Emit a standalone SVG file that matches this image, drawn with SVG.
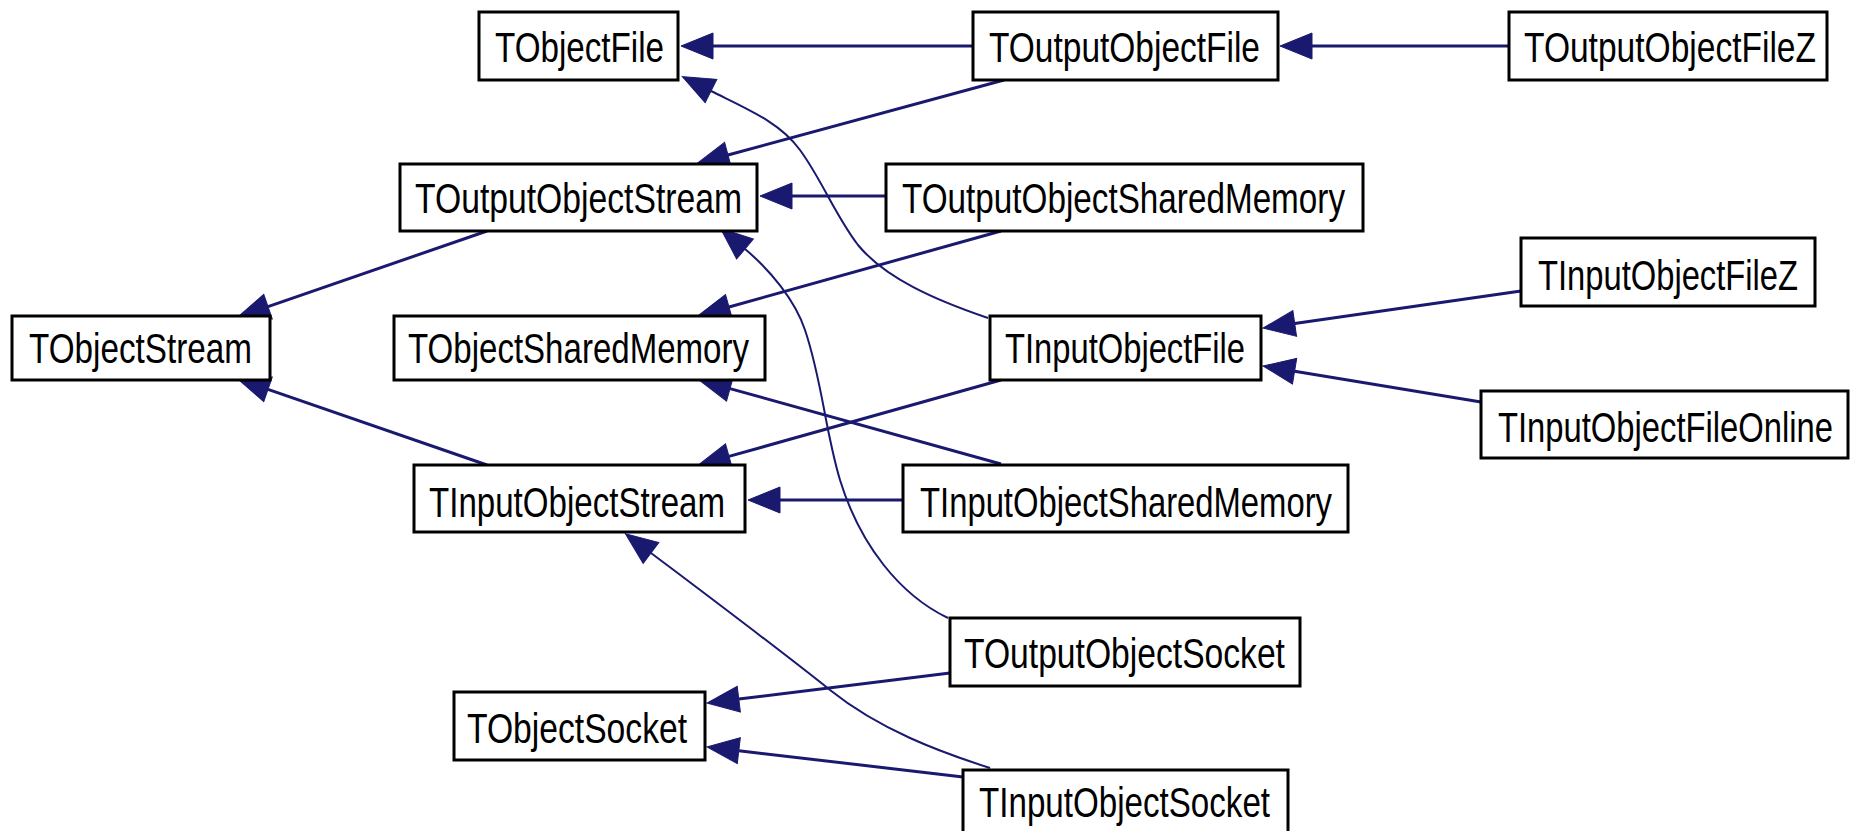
<svg xmlns="http://www.w3.org/2000/svg" width="1850" height="831" viewBox="0 0 1850 831">
  <style>
    .box { fill: #ffffff; stroke: #000000; stroke-width: 3; }
    .lbl { font-family: "Liberation Sans", Arial, sans-serif; font-size: 42px; fill: #000000; }
    .edge { fill: none; stroke: #191970; stroke-width: 3; marker-end: url(#ah); }
    .curve { fill: none; stroke: #191970; stroke-width: 2; marker-end: url(#ah); }
  </style>
  <defs>
    <marker id="ah" markerUnits="userSpaceOnUse" viewBox="0 0 32 26" markerWidth="32" markerHeight="26" refX="0" refY="13" orient="auto" overflow="visible">
      <path d="M0,0 L32,13 L0,26 Z" fill="#191970" stroke="#191970" stroke-width="1"/>
    </marker>
  </defs>
  <rect x="0" y="0" width="1850" height="831" fill="#ffffff"/>

  <g id="connectors">
    <!-- TOutputObjectFile -> TObjectFile -->
    <path class="edge" d="M973,46 L713,46"/>
    <!-- TOutputObjectFileZ -> TOutputObjectFile -->
    <path class="edge" d="M1509,46 L1312,46"/>
    <!-- TOutputObjectFile -> TOutputObjectStream -->
    <path class="edge" d="M1004,80 L728,155"/>
    <!-- TInputObjectFile -> TObjectFile -->
    <path class="curve" d="M988,318 C935,300 885,278 858,245 C835,215 822,180 800,150 C780,122 745,108 711,91"/>
    <!-- TOutputObjectSharedMemory -> TOutputObjectStream -->
    <path class="edge" d="M886,196 L792,196"/>
    <!-- TOutputObjectSharedMemory -> TObjectSharedMemory -->
    <path class="edge" d="M1001,231 L729,307"/>
    <!-- TOutputObjectSocket -> TOutputObjectStream -->
    <path class="curve" d="M948,618 C900,595 860,545 840,480 C825,430 822,380 805,330 C795,300 770,270 745,249"/>
    <!-- TOutputObjectStream -> TObjectStream -->
    <path class="edge" d="M487,231 L268,306.6"/>
    <!-- TInputObjectStream -> TObjectStream -->
    <path class="edge" d="M487,465 L268,389.4"/>
    <!-- TInputObjectSharedMemory -> TObjectSharedMemory -->
    <path class="edge" d="M1001,464 L730,388.6"/>
    <!-- TInputObjectFile -> TInputObjectStream -->
    <path class="edge" d="M1001,380 L729,456.4"/>
    <!-- TInputObjectSharedMemory -> TInputObjectStream -->
    <path class="edge" d="M903,500 L780,500"/>
    <!-- TInputObjectFileZ -> TInputObjectFile -->
    <path class="edge" d="M1521,291 L1294.7,323.5"/>
    <!-- TInputObjectFileOnline -> TInputObjectFile -->
    <path class="edge" d="M1481,402 L1294.6,371.2"/>
    <!-- TInputObjectSocket -> TInputObjectStream -->
    <path class="curve" d="M990,768 C940,752 880,730 830,690 C780,650 720,605 651,553"/>
    <!-- TOutputObjectSocket -> TObjectSocket -->
    <path class="edge" d="M950,673 L738.8,699.1"/>
    <!-- TInputObjectSocket -> TObjectSocket -->
    <path class="edge" d="M963,777 L738.8,750.7"/>
  </g>

  <g id="TObjectFile">
    <rect class="box" x="479" y="12" width="199" height="68"/>
    <text class="lbl" transform="translate(495,62) scale(0.79,1)" textLength="213.9" lengthAdjust="spacingAndGlyphs">TObjectFile</text>
  </g>
  <g id="TOutputObjectFile">
    <rect class="box" x="973" y="12" width="305" height="68"/>
    <text class="lbl" transform="translate(989,62) scale(0.79,1)" textLength="343" lengthAdjust="spacingAndGlyphs">TOutputObjectFile</text>
  </g>
  <g id="TOutputObjectFileZ">
    <rect class="box" x="1509" y="12" width="318" height="68"/>
    <text class="lbl" transform="translate(1524,62) scale(0.79,1)" textLength="369.6" lengthAdjust="spacingAndGlyphs">TOutputObjectFileZ</text>
  </g>
  <g id="TOutputObjectStream">
    <rect class="box" x="400" y="164" width="357" height="67"/>
    <text class="lbl" transform="translate(415,213) scale(0.79,1)" textLength="413.9" lengthAdjust="spacingAndGlyphs">TOutputObjectStream</text>
  </g>
  <g id="TOutputObjectSharedMemory">
    <rect class="box" x="886" y="164" width="477" height="67"/>
    <text class="lbl" transform="translate(902,213) scale(0.79,1)" textLength="560.8" lengthAdjust="spacingAndGlyphs">TOutputObjectSharedMemory</text>
  </g>
  <g id="TObjectStream">
    <rect class="box" x="12" y="316" width="258" height="64"/>
    <text class="lbl" transform="translate(29,363) scale(0.79,1)" textLength="282.3" lengthAdjust="spacingAndGlyphs">TObjectStream</text>
  </g>
  <g id="TObjectSharedMemory">
    <rect class="box" x="394" y="316" width="371" height="64"/>
    <text class="lbl" transform="translate(408,363) scale(0.79,1)" textLength="431.6" lengthAdjust="spacingAndGlyphs">TObjectSharedMemory</text>
  </g>
  <g id="TInputObjectFile">
    <rect class="box" x="990" y="316" width="271" height="64"/>
    <text class="lbl" transform="translate(1005,363) scale(0.79,1)" textLength="303.8" lengthAdjust="spacingAndGlyphs">TInputObjectFile</text>
  </g>
  <g id="TInputObjectFileZ">
    <rect class="box" x="1521" y="238" width="294" height="68"/>
    <text class="lbl" transform="translate(1538,290) scale(0.79,1)" textLength="329.1" lengthAdjust="spacingAndGlyphs">TInputObjectFileZ</text>
  </g>
  <g id="TInputObjectFileOnline">
    <rect class="box" x="1481" y="391" width="367" height="67"/>
    <text class="lbl" transform="translate(1498,442) scale(0.79,1)" textLength="424.1" lengthAdjust="spacingAndGlyphs">TInputObjectFileOnline</text>
  </g>
  <g id="TInputObjectStream">
    <rect class="box" x="414" y="465" width="331" height="67"/>
    <text class="lbl" transform="translate(429,517) scale(0.79,1)" textLength="374.7" lengthAdjust="spacingAndGlyphs">TInputObjectStream</text>
  </g>
  <g id="TInputObjectSharedMemory">
    <rect class="box" x="903" y="465" width="445" height="67"/>
    <text class="lbl" transform="translate(920,517) scale(0.79,1)" textLength="521.5" lengthAdjust="spacingAndGlyphs">TInputObjectSharedMemory</text>
  </g>
  <g id="TOutputObjectSocket">
    <rect class="box" x="950" y="618" width="350" height="68"/>
    <text class="lbl" transform="translate(964,668) scale(0.79,1)" textLength="406.3" lengthAdjust="spacingAndGlyphs">TOutputObjectSocket</text>
  </g>
  <g id="TObjectSocket">
    <rect class="box" x="454" y="692" width="251" height="68"/>
    <text class="lbl" transform="translate(467,743) scale(0.79,1)" textLength="278.5" lengthAdjust="spacingAndGlyphs">TObjectSocket</text>
  </g>
  <g id="TInputObjectSocket">
    <rect class="box" x="963" y="770" width="325" height="70"/>
    <text class="lbl" transform="translate(979,817) scale(0.79,1)" textLength="368.4" lengthAdjust="spacingAndGlyphs">TInputObjectSocket</text>
  </g>
</svg>
